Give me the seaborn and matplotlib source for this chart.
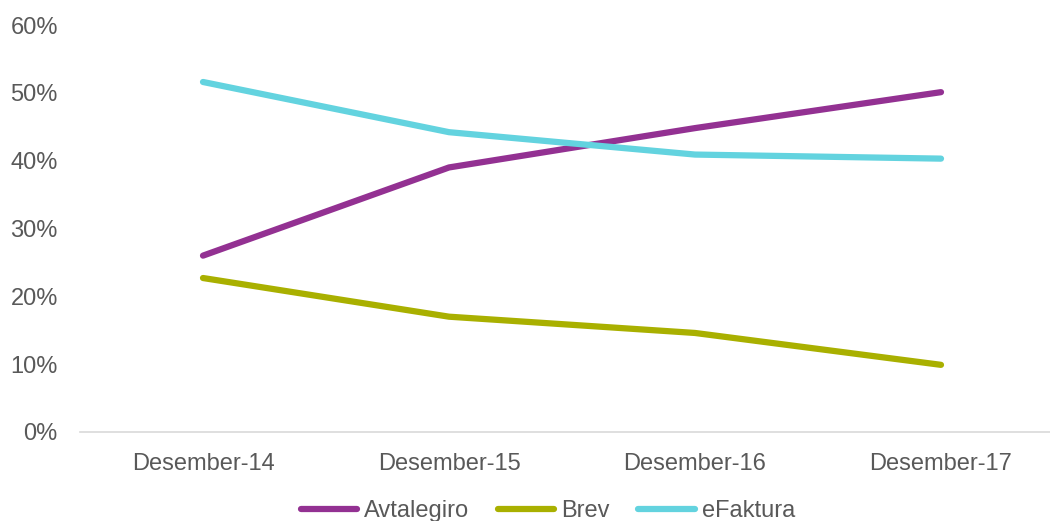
import matplotlib
matplotlib.use("Agg")
import matplotlib.pyplot as plt
import seaborn as sns
import pandas as pd
from matplotlib.ticker import FuncFormatter
from matplotlib.lines import Line2D

categories = ["Desember-14", "Desember-15", "Desember-16", "Desember-17"]
avtalegiro = [0.26, 0.39, 0.448, 0.501]
brev = [0.227, 0.170, 0.146, 0.099]
efaktura = [0.516, 0.442, 0.409, 0.403]
series_names = ["Avtalegiro", "Brev", "eFaktura"]
colors = ["#933192", "#A9B000", "#63D3DF"]

df = pd.DataFrame({"cat": categories * 3,
                   "x": list(range(4)) * 3,
                   "val": avtalegiro + brev + efaktura,
                   "series": [s for s in series_names for _ in range(4)]})

sns.set_theme(style="white")
plt.rcParams['font.family'] = ['Liberation Sans', 'DejaVu Sans']

fig = plt.figure(figsize=(10.5, 5.21), dpi=100)
ax = fig.add_axes([80/1050, 1-432/521, 984/1050, (432-25)/521])
sns.lineplot(data=df, x="x", y="val", hue="series", palette=colors,
             linewidth=4.5, ax=ax, legend=False, solid_capstyle="round")

ax.set_xlim(-0.5, 3.5)
ax.set_ylim(0, 0.6)
ax.set_yticks([0, 0.1, 0.2, 0.3, 0.4, 0.5, 0.6])
ax.yaxis.set_major_formatter(FuncFormatter(lambda v, p: f"{v*100:.0f}%"))
ax.set_xticks(range(4))
ax.set_xticklabels(categories)
ax.set_xlabel("")
ax.set_ylabel("")
for s in ["top", "right", "left"]:
    ax.spines[s].set_visible(False)
ax.spines["bottom"].set_color("#D9D9D9")
ax.spines["bottom"].set_linewidth(1.2)
ax.tick_params(axis="both", length=0, labelsize=17, colors="#595959")
ax.tick_params(axis="y", pad=16)
ax.tick_params(axis="x", pad=15)

handles = [Line2D([0], [0], color=c, lw=4.5, solid_capstyle="round") for c in colors]
fig.legend(handles, series_names, loc="center", bbox_to_anchor=(548/1050, 1-511/521),
           ncol=3, frameon=False, fontsize=17, labelcolor="#595959",
           handlelength=2.4, handletextpad=0.3, columnspacing=1.2)

fig.savefig("out.png", dpi=100)
